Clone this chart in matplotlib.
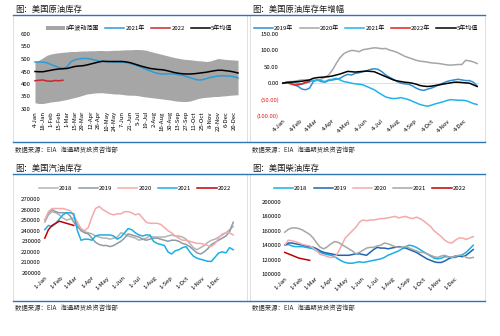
import numpy as np
import matplotlib
matplotlib.use("Agg")
import matplotlib.pyplot as plt
from matplotlib.patches import Rectangle
from matplotlib.lines import Line2D

plt.rcParams['font.family'] = ['Noto Sans CJK SC', 'DejaVu Sans']

# ---- panel 1: US crude inventory (million bbl), weekly ----
crude_ticks = ["4-Jan", "18-Jan", "1-Feb", "15-Feb", "1-Mar", "15-Mar", "29-Mar", "12-Apr",
               "26-Apr", "10-May", "24-May", "7-Jun", "21-Jun", "5-Jul", "19-Jul", "2-Aug",
               "16-Aug", "30-Aug", "13-Sep", "27-Sep", "11-Oct", "25-Oct", "8-Nov", "22-Nov",
               "6-Dec", "20-Dec"]
crude_max8 = [490, 495, 505, 515, 520, 523, 525, 527, 528, 530, 530, 531, 532, 532, 533, 533,
              534, 534, 533, 534, 535, 535, 536, 537, 537, 538, 538, 537, 535, 530, 526, 522,
              518, 514, 510, 506, 503, 500, 498, 497, 495, 493, 492, 490, 492, 497, 502, 500,
              498, 497, 496, 495]
crude_min8 = [325, 322, 322, 325, 328, 330, 332, 335, 338, 342, 346, 350, 355, 360, 362, 364,
              365, 365, 363, 362, 360, 360, 358, 356, 355, 355, 353, 350, 348, 346, 344, 342,
              340, 338, 336, 333, 331, 330, 330, 332, 337, 342, 345, 347, 348, 350, 350, 352,
              353, 355, 356, 357]
crude_2021 = [488, 488, 487, 485, 478, 472, 466, 462, 468, 488, 497, 500, 502, 502, 500, 496,
              492, 490, 490, 489, 488, 488, 487, 486, 482, 477, 471, 465, 458, 452, 446, 442,
              440, 440, 441, 440, 437, 435, 430, 425, 420, 416, 417, 421, 426, 429, 432, 433,
              432, 432, 429, 424]
crude_2022 = [413, 415, 416, 412, 411, 414, 413, 415]
crude_avg5 = [450, 449, 449, 452, 455, 458, 460, 461, 462, 466, 470, 472, 473, 476, 480, 484,
              488, 491, 490, 490, 490, 490, 490, 488, 485, 480, 475, 470, 466, 462, 460, 458,
              457, 454, 450, 446, 443, 441, 440, 440, 441, 443, 445, 447, 450, 453, 455, 455,
              453, 451, 448, 444]

# ---- panel 2: crude inventory change vs start of year ----
chg_ticks = ["4-Jan", "4-Feb", "4-Mar", "4-Apr", "4-May", "4-Jun", "4-Jul", "4-Aug",
             "4-Sep", "4-Oct", "4-Nov", "4-Dec"]
chg_2019 = [0, 3, 2, -5, -10, -18, -20, -15, 5, 10, 5, 3, 8, 10, 12, 15, 22, 27, 25, 30, 32,
            35, 38, 42, 44, 42, 35, 25, 18, 12, 5, 0, -2, -3, -8, -15, -20, -22, -18, -15, -10,
            -5, 0, 5, 8, 10, 12, 10, 8, 8, 3, -8]
chg_2020 = [0, 2, 4, 6, 8, 10, 10, 9, 8, 8, 12, 18, 25, 40, 60, 78, 90, 96, 100, 99, 96, 102,
            104, 106, 108, 107, 105, 106, 101, 98, 94, 88, 82, 78, 74, 70, 67, 66, 64, 62, 61,
            60, 58, 56, 55, 56, 57, 57, 70, 68, 65, 60]
chg_2021 = [0, 3, 5, 2, 0, -3, 0, 5, 8, 10, 8, 5, 10, 12, 15, 10, 5, 3, 0, -2, -3, -5, -10,
            -15, -20, -28, -35, -42, -45, -47, -46, -44, -47, -50, -55, -60, -65, -68, -70,
            -67, -63, -60, -57, -53, -50, -51, -52, -52, -53, -57, -62, -65]
chg_2022 = [0, 2, -2, -5, -5, -2, 3, 5]
chg_avg5 = [0, 2, 3, 4, 5, 6, 8, 10, 15, 17, 18, 19, 20, 22, 25, 28, 32, 36, 35, 34, 35, 36,
            37, 36, 35, 30, 25, 20, 15, 10, 7, 5, 3, 2, 0, -3, -7, -9, -10, -9, -7, -5, -3, -1,
            1, 3, 3, 2, 1, 0, -5, -10]

# ---- shared month ticks for panels 2-4 ----
month_days = [0, 31, 59, 90, 120, 151, 181, 212, 243, 273, 304, 334]
month_ticks = ["1-Jan", "1-Feb", "1-Mar", "1-Apr", "1-May", "1-Jun", "1-Jul", "1-Aug",
               "1-Sep", "1-Oct", "1-Nov", "1-Dec"]

# ---- panel 3: gasoline inventory (thousand bbl) ----
gas_2018 = [248, 255, 258, 257, 255, 252, 250, 251, 252, 246, 241, 239, 238, 237, 235, 234,
            233, 233, 232, 233, 234, 238, 237, 235, 234, 233, 231, 232, 233, 235, 234, 234,
            234, 234, 235, 236, 235, 235, 234, 232, 228, 224, 222, 224, 226, 229, 231, 232,
            234, 236, 238, 241, 244]
gas_2019 = [250, 257, 260, 258, 257, 257, 257, 254, 248, 244, 240, 238, 237, 233, 229, 227,
            226, 226, 225, 226, 228, 230, 233, 237, 236, 235, 234, 232, 231, 232, 233, 233,
            232, 231, 230, 231, 231, 230, 228, 227, 225, 222, 219, 218, 220, 223, 227, 229,
            231, 233, 235, 239, 248]
gas_2020 = [250, 258, 261, 261, 261, 261, 260, 259, 254, 248, 242, 240, 243, 253, 261, 263,
            260, 258, 256, 255, 256, 256, 258, 258, 257, 255, 256, 252, 248, 247, 247, 247,
            246, 243, 240, 238, 235, 233, 231, 231, 230, 229, 228, 228, 227, 226, 225, 228,
            233, 237, 238, 238, 236]
gas_2021 = [241, 245, 244, 247, 251, 255, 257, 257, 256, 240, 231, 232, 232, 231, 235, 236,
            236, 236, 236, 235, 232, 234, 238, 242, 241, 238, 236, 235, 236, 236, 230, 228,
            227, 226, 220, 218, 221, 222, 224, 225, 220, 216, 214, 213, 212, 211, 211, 215,
            219, 220, 219, 224, 222]
gas_2022 = [233, 241, 245, 247, 249, 248, 247, 246, 245]

# ---- panel 4: distillate inventory (thousand bbl) ----
dist_2018 = [140, 141, 139, 138, 138, 138, 137, 136, 135, 132, 130, 128, 127, 126, 124, 121,
             118, 116, 115, 115, 116, 117, 116, 117, 118, 119, 120, 121, 123, 126, 128, 130,
             132, 135, 138, 140, 139, 137, 134, 131, 128, 125, 122, 121, 122, 124, 124, 123,
             123, 125, 127, 130, 135, 140]
dist_2019 = [140, 143, 143, 142, 141, 140, 139, 138, 137, 135, 132, 130, 129, 128, 127, 126,
             126, 126, 126, 127, 128, 128, 127, 126, 130, 134, 137, 136, 136, 135, 136, 137,
             138, 137, 136, 134, 132, 130, 127, 124, 121, 119, 117, 116, 116, 118, 121, 123,
             125, 125, 124, 126, 130, 134]
dist_2020 = [140, 147, 146, 145, 143, 141, 140, 139, 136, 132, 127, 126, 124, 123, 123, 130,
             140, 150, 155, 160, 165, 172, 175, 174, 175, 175, 176, 177, 177, 178, 179, 180,
             178, 179, 180, 178, 177, 179, 177, 174, 170, 166, 160, 156, 152, 147, 144, 143,
             147, 150, 150, 148, 150, 152]
dist_2021 = [158, 162, 164, 164, 163, 161, 158, 155, 150, 143, 137, 135, 138, 142, 145, 144,
             141, 138, 135, 132, 128, 130, 133, 136, 137, 137, 139, 140, 143, 142, 140, 138,
             137, 137, 138, 136, 134, 132, 130, 130, 128, 126, 124, 123, 125, 126, 124, 123,
             125, 126, 126, 123, 122, 123]
dist_2022 = [130, 128, 126, 124, 122, 121, 120, 119]

W, H = 500, 336
fig = plt.figure(figsize=(W / 100, H / 100), dpi=100)
fig.patch.set_facecolor("white")

BLUE_RULE = "#2E75B6"
GRID = "#D9D9D9"
TICK_FS = 4.3
LEG_FS = 4.3
LEG_KW = dict(frameon=False, fontsize=LEG_FS, handlelength=3.2, columnspacing=1.0,
              handletextpad=0.2, borderpad=0.1)


def add_ax(x0, y0, x1, y1):
    # axes placed by pixel box (y measured from top)
    ax = fig.add_axes([x0 / W, 1 - y1 / H, (x1 - x0) / W, (y1 - y0) / H])
    for s in ax.spines.values():
        s.set_visible(False)
    ax.tick_params(length=0, labelsize=TICK_FS, pad=1.5)
    ax.patch.set_alpha(0)
    return ax


def fig_line(x0, x1, y, color, lw):
    fig.add_artist(Line2D([x0 / W, x1 / W], [1 - y / H, 1 - y / H], color=color, lw=lw))


# frames, rules, titles, sources
for (x0, x1) in [(13, 247), (250, 485)]:
    for (y0, y1) in [(15, 142), (174, 301)]:
        fig.add_artist(Rectangle((x0 / W, 1 - y1 / H), (x1 - x0) / W, (y1 - y0) / H,
                                 fill=False, ec=GRID, lw=0.6))
for y in [15, 142, 174, 301]:
    fig_line(13, 485, y, BLUE_RULE, 1.0)

titles = [(15, 9, "图：美国原油库存"), (252, 9, "图：美国原油库存年增幅"),
          (15, 168, "图：美国汽油库存"), (252, 168, "图：美国柴油库存")]
for x, y, t in titles:
    fig.text(x / W, 1 - y / H, t, fontsize=6, va="center", ha="left", color="#1a1a1a")
for x, y in [(15, 150), (252, 150), (15, 308), (252, 308)]:
    fig.text(x / W, 1 - y / H, "数据来源：EIA   海通期货投资咨询部", fontsize=4.6,
             va="center", ha="left", color="#333333")

# ---- panel 1 ----
ax1 = add_ax(33, 34, 240, 109)
wk = np.arange(len(crude_max8))
ax1.fill_between(wk, crude_min8, crude_max8, color="#A6A6A6", lw=0, label="8年波动范围")
ax1.plot(np.arange(len(crude_2021)), crude_2021, color="#2E9BD6", lw=1.1, label="2021年")
ax1.plot(np.arange(len(crude_2022)), crude_2022, color="#C8282D", lw=1.1, label="2022")
ax1.plot(np.arange(len(crude_avg5)), crude_avg5, color="black", lw=1.1, label="5年均值")
ax1.set_ylim(300, 600)
ax1.set_yticks(range(300, 601, 50))
ax1.set_xlim(-0.5, 51.5)
ax1.set_xticks(np.arange(0, 52, 2))
ax1.set_xticklabels(crude_ticks, rotation=90)
ax1.axhline(300, color=GRID, lw=0.6)
ax1.legend(loc="center", bbox_to_anchor=(139 / W, 1 - 28 / H), bbox_transform=fig.transFigure,
           ncol=4, handleheight=0.5, **LEG_KW)

# ---- panel 2 ----
ax2 = add_ax(281, 34, 479, 116)
ax2.axhline(0, color=GRID, lw=0.6)
ax2.plot(np.arange(len(chg_2019)), chg_2019, color="#2F8FD0", lw=1.1, label="2019年")
ax2.plot(np.arange(len(chg_2020)), chg_2020, color="#A6A6A6", lw=1.1, label="2020年")
ax2.plot(np.arange(len(chg_2021)), chg_2021, color="#1FB3EA", lw=1.1, label="2021年")
ax2.plot(np.arange(len(chg_2022)), chg_2022, color="#E0201B", lw=1.1, label="2022年")
ax2.plot(np.arange(len(chg_avg5)), chg_avg5, color="black", lw=1.1, label="5年均值")
ax2.set_ylim(-100, 150)
yt = list(range(-100, 151, 50))
ax2.set_yticks(yt)
ax2.set_yticklabels(["(%.2f)" % abs(v) if v < 0 else "%.2f" % v for v in yt])
for lab, v in zip(ax2.get_yticklabels(), yt):
    if v < 0:
        lab.set_color("#E0201B")
ax2.set_xlim(-0.5, 51.5)
ax2.set_xticks(np.array(month_days) / 7)
ax2.set_xticklabels(chg_ticks, rotation=45, ha="right", rotation_mode="anchor")
ax2.legend(loc="center", bbox_to_anchor=(366 / W, 1 - 28 / H), bbox_transform=fig.transFigure,
           ncol=5, **LEG_KW)

# ---- panel 3 ----
ax3 = add_ax(43, 199, 235, 273)
ax3.axhline(200000, color=GRID, lw=0.6)
for vals, col, lab in [(gas_2018, "#B4B4B4", "2018"), (gas_2019, "#8E9AA6", "2019"),
                       (gas_2020, "#F4AAAA", "2020"), (gas_2021, "#1AAFE6", "2021"),
                       (gas_2022, "#C00000", "2022")]:
    ax3.plot(np.arange(len(vals)), np.array(vals) * 1000, color=col, lw=1.1, label=lab)
ax3.set_ylim(200000, 270000)
ax3.set_yticks(range(200000, 270001, 10000))
ax3.set_xlim(-0.5, 52.5)
ax3.set_xticks(np.array(month_days) / 7)
ax3.set_xticklabels(month_ticks, rotation=45, ha="right", rotation_mode="anchor")
ax3.legend(loc="center", bbox_to_anchor=(135 / W, 1 - 188 / H), bbox_transform=fig.transFigure,
           ncol=5, **LEG_KW)

# ---- panel 4 ----
ax4 = add_ax(283, 202, 475, 274)
ax4.axhline(100000, color=GRID, lw=0.6)
for vals, col, lab in [(dist_2018, "#1AAFE6", "2018"), (dist_2019, "#1F64AF", "2019"),
                       (dist_2020, "#F4AAAA", "2020"), (dist_2021, "#A6A6A6", "2021"),
                       (dist_2022, "#C00000", "2022")]:
    ax4.plot(np.arange(len(vals)), np.array(vals) * 1000, color=col, lw=1.1, label=lab)
ax4.set_ylim(100000, 200000)
ax4.set_yticks(range(100000, 200001, 20000))
ax4.set_xlim(-0.5, 53.5)
ax4.set_xticks(np.array(month_days) / 7)
ax4.set_xticklabels(month_ticks, rotation=45, ha="right", rotation_mode="anchor")
ax4.legend(loc="center", bbox_to_anchor=(370 / W, 1 - 188 / H), bbox_transform=fig.transFigure,
           ncol=5, **LEG_KW)

fig.savefig("out.png", dpi=100)
